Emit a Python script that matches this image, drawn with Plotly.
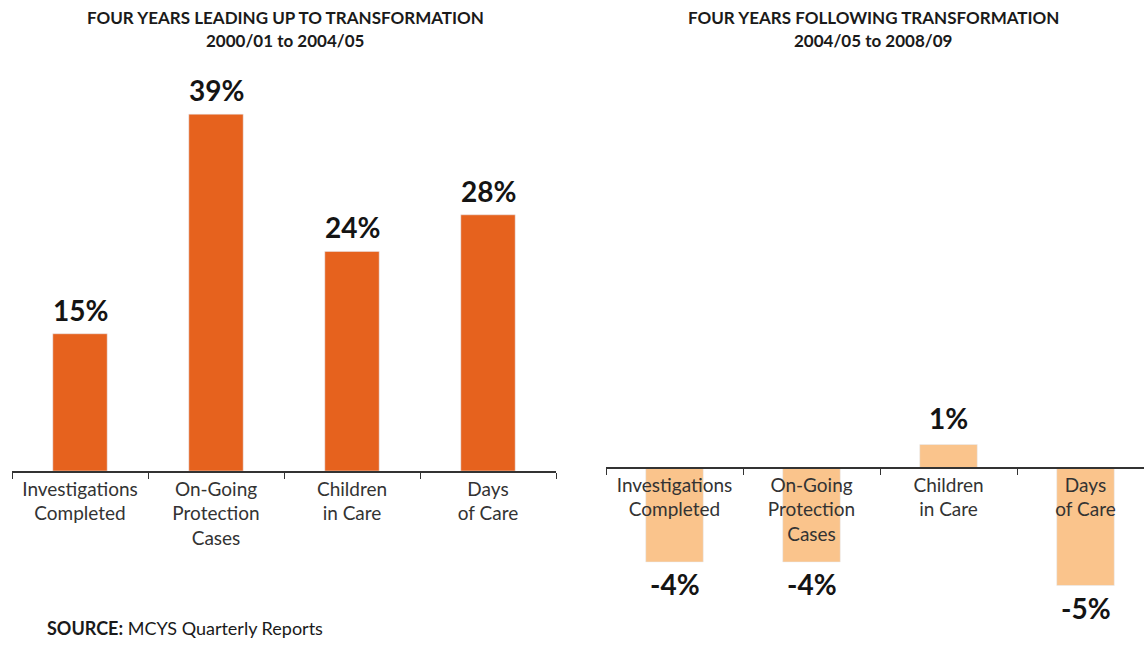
import plotly.graph_objects as go

# ---- data ----
categories = ["Investigations<br>Completed", "On-Going<br>Protection<br>Cases",
              "Children<br>in Care", "Days<br>of Care"]
before_values = [15, 39, 24, 28]          # 2000/01 to 2004/05, % change
after_values = [-4, -4, 1, -5]            # 2004/05 to 2008/09, % change
before_title = ["FOUR YEARS LEADING UP TO TRANSFORMATION", "2000/01 to 2004/05"]
after_title = ["FOUR YEARS FOLLOWING TRANSFORMATION", "2004/05 to 2008/09"]
source_text = "<b>SOURCE:</b> MCYS Quarterly Reports"

# ---- layout helpers (pixels) ----
W, H = 1144, 648
FONT = "Lato"

def py(p):  # pixel row -> paper fraction
    return (H - p) / H

def px(p):
    return p / W

left_zero, left_top, left_scale = 471, 60, 9.15
right_zero, right_top, right_bottom, right_scale = 468, 60, 640, 23.5

fig = go.Figure()
fig.add_trace(go.Bar(x=categories, y=before_values, marker_color="#E6621E",
                     width=0.4, xaxis="x", yaxis="y", showlegend=False,
                     hoverinfo="skip"))
fig.add_trace(go.Bar(x=categories, y=after_values, marker_color="#FAC48C",
                     width=0.42, xaxis="x2", yaxis="y2",
                     showlegend=False, hoverinfo="skip"))

annotations = []
for c, v in zip(categories, before_values):
    annotations.append(dict(x=c, y=v, xref="x", yref="y", text=f"{v}%",
                            showarrow=False, yshift=24, yanchor="middle",
                            font=dict(family=FONT, size=28, color="#141414", weight="bold")))
for c, v in zip(categories, after_values):
    annotations.append(dict(x=c, y=v, xref="x2", yref="y2", text=f"{v}%",
                            showarrow=False, yshift=27 if v > 0 else -22,
                            yanchor="middle",
                            font=dict(family=FONT, size=28, color="#141414", weight="bold")))

for (title, cx) in ((before_title, 285), (after_title, 873)):
    for line, yy in zip(title, (17, 40)):
        annotations.append(dict(x=px(cx), y=py(yy), xref="paper", yref="paper",
                                text=f"<b>{line}</b>", showarrow=False,
                                xanchor="center", yanchor="middle",
                                font=dict(family=FONT, size=17, color="#1a1a1a")))

annotations.append(dict(x=px(45), y=py(628), xref="paper", yref="paper",
                        text=source_text, showarrow=False, xanchor="left",
                        yanchor="middle",
                        font=dict(family=FONT, size=18, color="#1a1a1a")))

axis_common = dict(type="category", tickson="boundaries", ticks="outside",
                   ticklen=6, tickcolor="#333", tickwidth=1.2, showline=True,
                   linecolor="#333", linewidth=1.5, showgrid=False,
                   tickfont=dict(family=FONT, size=19, color="#333"),
                   fixedrange=True)

fig.update_layout(
    width=W, height=H, margin=dict(l=0, r=0, t=0, b=0),
    paper_bgcolor="white", plot_bgcolor="rgba(0,0,0,0)",
    barmode="overlay",
    xaxis=dict(domain=[px(12), px(556)], anchor="y", range=[-0.5, 3.5],
               **axis_common),
    yaxis=dict(domain=[py(left_zero), py(left_top)],
               range=[0, (left_zero - left_top) / left_scale],
               visible=False, fixedrange=True),
    xaxis2=dict(domain=[px(606), 1.0], anchor="free", position=py(right_zero),
                range=[-0.5, -0.5 + (W - 606) / 137.0], **axis_common),
    yaxis2=dict(domain=[py(right_bottom), py(right_top)],
                range=[-(right_bottom - right_zero) / right_scale,
                       (right_zero - right_top) / right_scale],
                visible=False, fixedrange=True, anchor="x2"),
    annotations=annotations,
)

fig.write_html("out.html")
